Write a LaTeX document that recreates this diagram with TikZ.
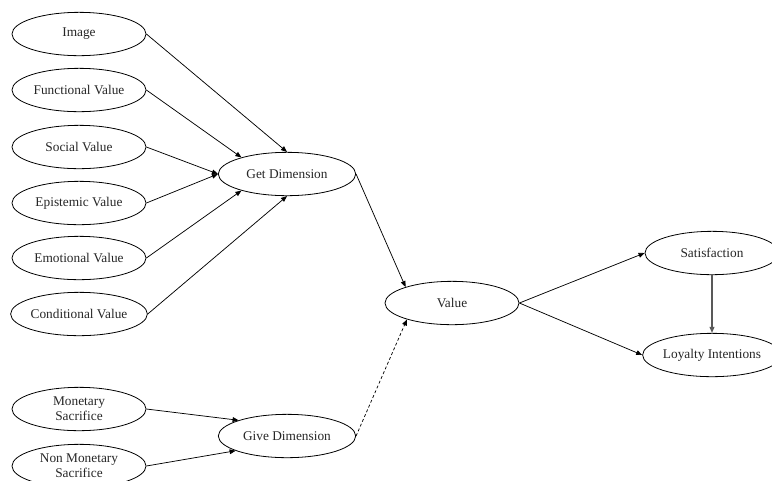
\documentclass[tikz,border=0pt]{standalone}
\usepackage{fontspec}
\setmainfont{Liberation Serif}
\usetikzlibrary{shapes.geometric,arrows.meta}
\begin{document}
\begin{tikzpicture}[x=0.75pt,y=-0.75pt,
  ell/.style={draw,ellipse,line width=0.6pt,minimum width=100.5pt,minimum height=32.5pt,inner sep=0pt,align=center,font=\fontsize{10}{11.5}\selectfont,text=black!85},
  arr/.style={line width=0.55pt,-{Triangle[length=4.5pt,width=3.6pt]}},
  dsh/.style={arr,dash pattern=on 2.2pt off 1.7pt}]
\useasboundingbox (0,0) rectangle (772,480);
\clip (0,0) rectangle (772,480);
\node[ell] (img) at (79,34) {Image};
\node[ell] (fun) at (79,90) {Functional Value};
\node[ell] (soc) at (79,147) {Social Value};
\node[ell] (epi) at (79,203) {Epistemic Value};
\node[ell] (emo) at (79,258) {Emotional Value};
\node[ell] (con) at (79,314) {Conditional Value};
\node[ell] (mon) at (79,409) {Monetary\\Sacrifice};
\node[ell] (non) at (79,466) {Non Monetary\\Sacrifice};
\node[ell,minimum width=103pt] (get) at (287,174) {Get Dimension};
\node[ell,minimum width=103pt] (give) at (287,436) {Give Dimension};
\node[ell] (val) at (452,303) {Value};
\node[ell] (sat) at (712,253) {Satisfaction};
\node[ell] (loy) at (712,355) {Loyalty Intentions};
\draw[arr] (img.east) -- (get.north);
\draw[arr] (fun.east) -- (get.160);
\draw[arr] (soc.east) -- (get.west);
\draw[arr] (epi.east) -- (get.west);
\draw[arr] (emo.east) -- (get.200);
\draw[arr] (con.east) -- (get.south);
\draw[arr] (mon.east) -- (give.162);
\draw[arr] (non.east) -- (give.196);
\draw[arr] (get.east) -- (val.161);
\draw[dsh] (give.east) -- (val.200);
\draw[arr] (val.east) -- (sat.west);
\draw[arr] (val.east) -- (loy.west);
\draw[arr,draw=black!65,line width=0.9pt] (sat.south) -- (loy.north);
\end{tikzpicture}
\end{document}
